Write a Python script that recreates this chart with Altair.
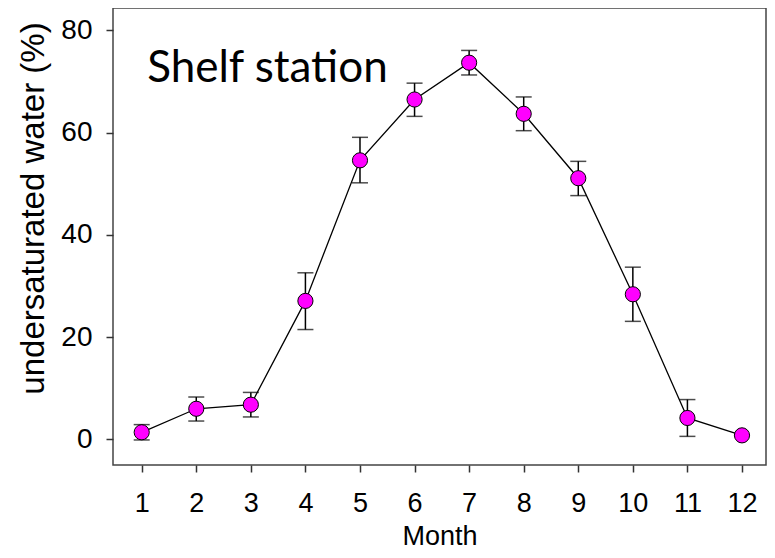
import altair as alt
import pandas as pd

months = [1, 2, 3, 4, 5, 6, 7, 8, 9, 10, 11, 12]
mean = [1.4, 6.0, 6.8, 27.1, 54.6, 66.5, 73.7, 63.7, 51.1, 28.4, 4.2, 0.8]
upper = [2.9, 8.3, 9.2, 32.6, 59.1, 69.7, 76.1, 67.0, 54.4, 33.7, 7.8, 0.8]
lower = [-0.1, 3.6, 4.4, 21.5, 50.2, 63.2, 71.3, 60.4, 47.7, 23.1, 0.6, 0.8]
x_ticks = months
y_ticks = [0, 20, 40, 60, 80]
label_text = ["Shelf station"]
label_pos = [(1.1, 70.0)]

df = pd.DataFrame({"month": months, "mean": mean, "upper": upper, "lower": lower})
lab = pd.DataFrame({"text": label_text, "x": [p[0] for p in label_pos], "y": [p[1] for p in label_pos]})

FONT = "Liberation Sans"

xenc = alt.X(
    "month:Q",
    scale=alt.Scale(domain=[0.474, 12.44], nice=False, zero=False),
    axis=alt.Axis(
        values=x_ticks, format="d", title="Month", grid=False, domain=False,
        tickSize=7, tickWidth=1.5, tickColor="#333333",
        labelFontSize=27, labelFont=FONT, labelColor="black", labelPadding=18,
        labelOverlap=False, labelFlush=False,
        titleFontSize=27, titleFont=FONT, titleColor="black", titleFontWeight="normal",
        titleY=79, titleBaseline="alphabetic",
    ),
)
yenc = alt.Y(
    "mean:Q",
    scale=alt.Scale(domain=[-5, 84.4], nice=False, zero=False),
    axis=alt.Axis(
        values=y_ticks, format="d", title="undersaturated water (%)", grid=False, domain=False,
        tickSize=7, tickWidth=1.5, tickColor="#333333",
        labelFontSize=28, labelFont=FONT, labelColor="black", labelPadding=14,
        titleFontSize=33, titleFont=FONT, titleColor="black", titleFontWeight="normal",
        titleX=-70, titleY=200, titleAngle=-90, titleAlign="center", titleBaseline="alphabetic",
    ),
)

base = alt.Chart(df)

bars = base.mark_rule(color="black", strokeWidth=1.5).encode(
    x=xenc, y=alt.Y("lower:Q"), y2="upper:Q"
)
cap_top = base.mark_tick(orient="horizontal", size=16, thickness=1.5, color="black").encode(
    x="month:Q", y="upper:Q"
)
cap_bot = base.mark_tick(orient="horizontal", size=16, thickness=1.5, color="black").encode(
    x="month:Q", y="lower:Q"
)
line = base.mark_line(color="black", strokeWidth=1.3).encode(x=xenc, y=yenc)
pts = base.mark_circle(size=230, color="#FF00FF", stroke="black", strokeWidth=1, opacity=1).encode(
    x="month:Q", y="mean:Q"
)
text = alt.Chart(lab).mark_text(
    align="left", baseline="alphabetic", font="Lato", fontSize=44, color="black"
).encode(x="x:Q", y="y:Q", text="text:N")

chart = alt.layer(line, bars, cap_top, cap_bot, pts, text).properties(
    width=653, height=457,
    autosize=alt.AutoSizeParams(type="none"),
    padding={"left": 105, "top": 0, "right": 1, "bottom": 85},
).configure_view(stroke="#444444", strokeWidth=1.5)

chart.save("out.html", embed_options={"renderer": "svg", "actions": False})
